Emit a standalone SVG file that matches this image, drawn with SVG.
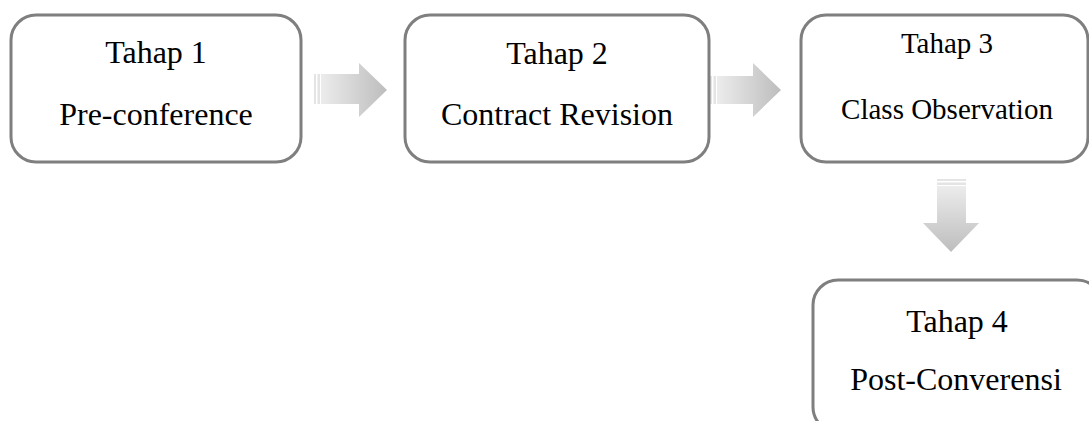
<svg xmlns="http://www.w3.org/2000/svg" width="1089" height="421" viewBox="0 0 1089 421">
<defs>
<linearGradient id="gh" x1="0" y1="0" x2="1" y2="0"><stop offset="0" stop-color="#ececec"/><stop offset="1" stop-color="#bdbdbd"/></linearGradient>
<linearGradient id="gv" x1="0" y1="0" x2="0" y2="1"><stop offset="0" stop-color="#ececec"/><stop offset="1" stop-color="#bdbdbd"/></linearGradient>
<style>
.box{fill:#fff;stroke:#7f7f7f;stroke-width:3}
text{font-family:'Liberation Serif','Times New Roman',Times,serif;font-size:32px;fill:#000;text-anchor:middle}
.s{font-size:29px}
</style>
</defs>
<rect width="1089" height="421" fill="#fff"/>
<g id="connectors">
<g id="arrow1" fill="url(#gh)">
<rect x="314" y="74" width="2" height="30" fill="#e4e4e4"/>
<rect x="317.5" y="74" width="2.5" height="30" fill="#e4e4e4"/>
<path d="M321 74 H359 V63 L387 90 L359 117 V104 H321 Z"/>
</g>
<g id="arrow2" fill="url(#gh)">
<rect x="710" y="76" width="2" height="28" fill="#e4e4e4"/>
<rect x="713.5" y="76" width="2.5" height="28" fill="#e4e4e4"/>
<path d="M717 76 H753 V63 L781 90 L753 117 V104 H717 Z"/>
</g>
<g id="arrow3" fill="url(#gv)">
<rect x="937" y="179" width="29" height="2" fill="#e4e4e4"/>
<rect x="937" y="182.5" width="29" height="2.5" fill="#e4e4e4"/>
<path d="M937 186 H966 V223 H979 L951 252 L923 223 H937 Z"/>
</g>
</g>
<g id="node1">
<rect class="box" x="11" y="15" width="290" height="147" rx="25"/>
<text x="156" y="63">Tahap 1</text>
<text x="156" y="125">Pre-conference</text>
</g>
<g id="node2">
<rect class="box" x="405" y="15" width="304" height="147" rx="25"/>
<text x="557" y="64">Tahap 2</text>
<text x="557" y="125">Contract Revision</text>
</g>
<g id="node3">
<rect class="box" x="801" y="15" width="287" height="147" rx="25"/>
<text class="s" x="947" y="53">Tahap 3</text>
<text class="s" x="947" y="119">Class Observation</text>
</g>
<g id="node4">
<rect class="box" x="813" y="280" width="289" height="152" rx="25"/>
<text x="957" y="332">Tahap 4</text>
<text x="956" y="390">Post-Converensi</text>
</g>
</svg>
